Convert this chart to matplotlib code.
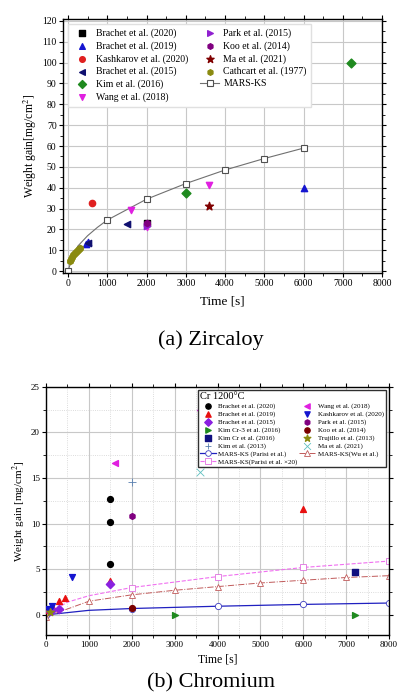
import numpy as np
import matplotlib.pyplot as plt
from matplotlib.ticker import MultipleLocator

plt.rcParams['font.family'] = ['Liberation Serif', 'DejaVu Serif']
plt.rcParams['mathtext.fontset'] = 'stix'

# ---------------- (a) Zircaloy data ----------------
zr_series = [
    # label, marker, color, times, gains
    ("Brachet et al. (2020)", "s", "#000000", [2000], [23]),
    ("Brachet et al. (2019)", "^", "#1515d0", [6000, 450, 520], [40, 13, 14]),
    ("Kashkarov et al. (2020)", "o", "#e02020", [600], [32.5]),
    ("Brachet et al. (2015)", "<", "#101070", [1500, 500], [22.5, 13.5]),
    ("Kim et al. (2016)", "D", "#1f8a1f", [3000, 7200], [37.5, 100]),
    ("Wang et al. (2018)", "v", "#e020e0", [1600, 3600, 2000], [29.5, 41.5, 21]),
    ("Park et al. (2015)", ">", "#9020d0", [2000], [21.5]),
    ("Koo et al. (2014)", "h", "#800080", [2000], [23]),
    ("Ma et al. (2021)", "*", "#800000", [3600], [31]),
    ("Cathcart et al. (1977)", "h", "#8a8a10",
     [50, 75, 100, 125, 150, 175, 200, 225, 250, 275, 300],
     [5, 6, 7, 7.5, 8, 8.5, 9, 9.5, 10, 10.5, 11]),
]
zr_mars_t = [0, 100, 250, 500, 750, 1000, 2000, 3000, 4000, 5000, 6000]
zr_mars_w = [0, 6, 12, 17, 21, 24.5, 34.5, 42, 48.5, 54, 59]
zr_mars_marks = [0, 5, 6, 7, 8, 9, 10]

# ---------------- (b) Chromium data ----------------
cr_series = [
    ("Brachet et al. (2020)", "o", "#000000", [1500, 1500, 1500], [12.7, 10.2, 5.6]),
    ("Brachet et al. (2019)", "^", "#e81010", [6000, 1500, 450, 300, 150, 50],
     [11.6, 3.7, 1.8, 1.5, 1.0, 0.5]),
    ("Brachet et al. (2015)", "D", "#8a20e0", [1500, 300, 150, 100], [3.4, 0.7, 0.5, 0.4]),
    ("Kim Cr-3 et al. (2016)", ">", "#1f8a1f", [3000, 7200], [0.0, 0.0]),
    ("Kim Cr et al. (2016)", "s", "#101080", [7200], [4.7]),
    ("Kim et al. (2013)", "+", "#5a80b0", [2000], [14.6]),
    ("Wang et al. (2018)", "<", "#e020e0", [1600, 3600], [16.6, 22.5]),
    ("Kashkarov et al. (2020)", "v", "#1515d0", [600, 150, 50], [4.1, 1.0, 0.7]),
    ("Park et al. (2015)", "h", "#800080", [2000], [10.8]),
    ("Koo et al. (2014)", "o", "#7a0000", [2000], [0.8]),
    ("Trujillo et al. (2013)", "*", "#8a8a10", [100], [0.3]),
    ("Ma et al. (2021)", "x", "#60c0c0", [3600], [15.7]),
]
parisi_t = [0, 1000, 2000, 4000, 6000, 8000]
parisi_w = [0.0, 0.5, 0.7, 0.95, 1.15, 1.3]
wu_t = [0, 1000, 2000, 3000, 4000, 5000, 6000, 7000, 8000]
wu_w = [-0.2, 1.5, 2.2, 2.7, 3.1, 3.5, 3.8, 4.1, 4.3]
parisi20_t = [0, 500, 1000, 2000, 4000, 6000, 8000]
parisi20_w = [0.0, 1.4, 2.1, 3.0, 4.2, 5.2, 5.9]

fig = plt.figure(figsize=(3.98, 6.97), dpi=100)

# ---------------- top panel ----------------
ax1 = fig.add_axes([0.158, 0.608, 0.802, 0.365])
ax1.plot(zr_mars_t, zr_mars_w, color="#707070", lw=0.8, marker="s", ms=4.5,
         mfc="white", mec="#505050", mew=0.8, markevery=zr_mars_marks,
         label="MARS-KS", zorder=2)
handles = []
for lab, mk, col, t, w in zr_series:
    ms = 6 if mk == "*" else 4.5
    h = ax1.scatter(t, w, marker=mk, color=col, s=ms ** 2, label=lab, zorder=3)
    handles.append(h)
mars_h = ax1.get_lines()[0]
ax1.set_xlim(-130, 8000)
ax1.set_ylim(-1, 121)
ax1.xaxis.set_major_locator(MultipleLocator(1000))
ax1.xaxis.set_minor_locator(MultipleLocator(500))
ax1.yaxis.set_major_locator(MultipleLocator(10))
ax1.yaxis.set_minor_locator(MultipleLocator(5))
ax1.grid(True, which="major", color="#c8c8c8", lw=0.8)
ax1.tick_params(labelsize=7, direction="out", length=3, pad=1.5)
ax1.tick_params(which="minor", length=2)
ax1.tick_params(right=True, top=True, which="both")
ax1.set_xlabel("Time [s]", fontsize=9.5, labelpad=5)
ax1.set_ylabel("Weight gain[mg/cm$^2$]", fontsize=8.5, labelpad=2)
for s in ax1.spines.values():
    s.set_linewidth(1.0)
leg1 = ax1.legend(handles + [mars_h], [h.get_label() for h in handles] + ["MARS-KS"],
                  loc="upper left", bbox_to_anchor=(0.0, 1.0), ncol=2, fontsize=7,
                  frameon=True, fancybox=False, edgecolor="#e0e0e0", framealpha=1,
                  labelspacing=0.32, handlelength=2.0, handletextpad=0.4,
                  columnspacing=1.2, borderpad=0.5, markerscale=0.9)
fig.text(0.53, 0.512, "(a) Zircaloy", ha="center", va="center", fontsize=16)

# ---------------- bottom panel ----------------
ax2 = fig.add_axes([0.1156, 0.089, 0.862, 0.356])
hs = []
for lab, mk, col, t, w in cr_series:
    ms = 5.5 if mk in ("*", "+", "x") else 4.2
    lw = 0.6 if mk in ("+", "x") else None
    h = ax2.scatter(t, w, marker=mk, color=col, s=ms ** 2, label=lab, zorder=3,
                    linewidths=lw)
    hs.append(h)
l_par, = ax2.plot(parisi_t, parisi_w, color="#2020c0", lw=0.9, marker="o", ms=4.5,
                  mfc="white", mec="#4040c0", mew=0.6, markevery=[0, 2, 3, 4, 5],
                  label="MARS-KS (Parisi et al.)", zorder=2)
l_wu, = ax2.plot(wu_t, wu_w, color="#c05a5a", lw=0.7, ls="-.", marker="^", ms=5,
                 mfc="white", mec="#c05a5a", mew=0.6,
                 label="MARS-KS(Wu et al.)", zorder=2)
l_p20, = ax2.plot(parisi20_t, parisi20_w, color="#f070f0", lw=0.8, ls="--", marker="s",
                  ms=4.5, mfc="white", mec="#e070e0", mew=0.6,
                  markevery=[3, 4, 5, 6], label="MARS-KS(Parisi et al. ×20)", zorder=2)
ax2.set_xlim(0, 8000)
ax2.set_ylim(-2.2, 25)
ax2.xaxis.set_major_locator(MultipleLocator(1000))
ax2.xaxis.set_minor_locator(MultipleLocator(500))
ax2.yaxis.set_major_locator(MultipleLocator(5))
ax2.yaxis.set_minor_locator(MultipleLocator(2.5))
ax2.grid(True, which="major", color="#c8c8c8", lw=0.8)
ax2.grid(True, which="minor", color="#d0d0d0", lw=0.6, ls=":")
ax2.tick_params(labelsize=6.5, direction="out", length=3, pad=1.5)
ax2.tick_params(which="minor", length=2)
ax2.tick_params(right=True, top=True, which="both")
ax2.set_xlabel("Time [s]", fontsize=8.5, labelpad=3)
ax2.set_ylabel("Weight gain [mg/cm$^2$]", fontsize=8, labelpad=2)
for s in ax2.spines.values():
    s.set_linewidth(1.0)
order = hs[:6] + [l_par, l_p20] + hs[6:] + [l_wu]
leg2 = ax2.legend(order, [h.get_label() for h in order], loc="upper right",
                  bbox_to_anchor=(1.0, 1.0), ncol=2, fontsize=5, title="Cr 1200°C",
                  title_fontsize=7.5, frameon=True, fancybox=False, edgecolor="#303030",
                  framealpha=1, labelspacing=0.25, handlelength=2.3, handletextpad=0.3,
                  columnspacing=0.3, borderpad=0.3, markerscale=0.9)
leg2._legend_box.align = "left"
fig.text(0.53, 0.021, "(b) Chromium", ha="center", va="center", fontsize=16)

fig.savefig("out.png", dpi=100)
